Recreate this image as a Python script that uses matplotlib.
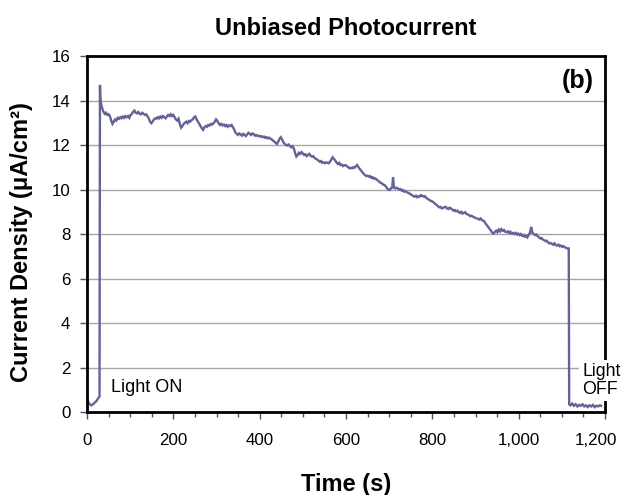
import matplotlib
matplotlib.use("Agg")
import matplotlib.pyplot as plt
from matplotlib.ticker import MultipleLocator, FuncFormatter
from matplotlib.transforms import ScaledTranslation

# ---- data ----
time_s = [0, 3, 6, 10, 14, 18, 22, 26, 29, 30, 31, 32, 34, 36, 38, 41, 44, 47, 50, 53, 56, 59,
          62, 65, 68, 71, 74, 77, 80, 83, 86, 89, 92, 95, 98, 101, 104, 107, 110, 113, 116, 119,
          122, 125, 128, 131, 134, 137, 140, 143, 146, 149, 152, 155, 158, 161, 164, 167, 170, 173,
          176, 179, 182, 185, 188, 191, 194, 197, 200, 203, 206, 209, 212, 215, 218, 221, 224, 227,
          230, 233, 236, 239, 242, 245, 248, 251, 254, 257, 260, 263, 266, 269, 272, 275, 278, 281,
          284, 287, 290, 293, 296, 299, 302, 305, 308, 311, 314, 317, 320, 323, 326, 329, 332, 335,
          338, 341, 344, 347, 350, 353, 356, 359, 362, 365, 368, 371, 374, 377, 380, 383, 386, 389,
          392, 395, 398, 401, 404, 407, 410, 413, 416, 419, 422, 425, 428, 431, 434, 437, 440, 443,
          446, 449, 452, 455, 458, 461, 464, 467, 470, 473, 476, 479, 482, 485, 488, 491, 494, 497,
          500, 503, 506, 509, 512, 515, 518, 521, 524, 527, 530, 533, 536, 539, 542, 545, 548, 551,
          554, 557, 560, 563, 566, 569, 572, 575, 578, 581, 584, 587, 590, 593, 596, 599, 602, 605,
          608, 611, 614, 617, 620, 623, 626, 629, 632, 635, 638, 641, 644, 647, 650, 653, 656, 659,
          662, 665, 668, 671, 674, 677, 680, 683, 686, 689, 692, 695, 698, 701, 704, 707, 709, 711,
          714, 717, 720, 723, 726, 729, 732, 735, 738, 741, 744, 747, 750, 753, 756, 759, 762, 765,
          768, 771, 774, 777, 780, 783, 786, 789, 792, 795, 798, 801, 804, 807, 810, 813, 816, 819,
          822, 825, 828, 831, 834, 837, 840, 843, 846, 849, 852, 855, 858, 861, 864, 867, 870, 873,
          876, 879, 882, 885, 888, 891, 894, 897, 900, 903, 906, 909, 912, 915, 918, 921, 924, 927,
          930, 933, 936, 939, 942, 945, 948, 951, 954, 957, 960, 963, 966, 969, 972, 975, 978, 981,
          984, 987, 990, 993, 996, 999, 1002, 1005, 1008, 1011, 1014, 1017, 1020, 1023, 1026, 1029,
          1032, 1035, 1038, 1041, 1044, 1047, 1050, 1053, 1056, 1059, 1062, 1065, 1068, 1071, 1074,
          1077, 1080, 1083, 1086, 1089, 1092, 1095, 1098, 1101, 1104, 1107, 1110, 1113, 1116, 1117,
          1120, 1124, 1128, 1132, 1136, 1140, 1144, 1148, 1152, 1156, 1160, 1164, 1168, 1172, 1176,
          1180, 1184, 1188, 1191]

current_density = [0.65, 0.45, 0.35, 0.30, 0.35, 0.42, 0.50, 0.62, 0.70, 14.70, 14.10, 13.90,
                   13.75, 13.60, 13.50, 13.40, 13.45, 13.35, 13.38, 13.30, 13.10, 12.95,
                   13.05, 13.15, 13.10, 13.22, 13.18, 13.25, 13.20, 13.28, 13.22, 13.30, 13.25,
                   13.30, 13.22, 13.35, 13.40, 13.50, 13.55, 13.45, 13.42, 13.48,
                   13.40, 13.38, 13.45, 13.40, 13.35, 13.38, 13.30, 13.20, 13.05, 12.98, 13.05,
                   13.15, 13.20, 13.18, 13.25, 13.20, 13.28, 13.22,
                   13.30, 13.25, 13.20, 13.28, 13.35, 13.30, 13.38, 13.30, 13.35, 13.25, 13.15,
                   13.10, 13.18, 12.95, 12.78, 12.85, 12.95, 13.00,
                   13.05, 12.98, 13.08, 13.05, 13.12, 13.15, 13.25, 13.28, 13.15, 13.05, 12.95,
                   12.85, 12.75, 12.68, 12.80, 12.85, 12.82, 12.90,
                   12.88, 12.95, 12.92, 12.98, 13.05, 13.15, 13.08, 12.98, 12.90, 12.95, 12.88,
                   12.92, 12.85, 12.90, 12.82, 12.88, 12.85, 12.90,
                   12.80, 12.70, 12.55, 12.50, 12.45, 12.52, 12.48, 12.42, 12.50, 12.45, 12.40,
                   12.48, 12.55, 12.50, 12.45, 12.52, 12.50, 12.42,
                   12.45, 12.40, 12.42, 12.38, 12.40, 12.35, 12.38, 12.32, 12.35, 12.30, 12.33,
                   12.28, 12.25, 12.20, 12.15, 12.10, 12.05, 12.15,
                   12.28, 12.35, 12.25, 12.12, 12.05, 12.00, 11.98, 12.02, 11.95, 11.90, 11.95,
                   11.85, 11.65, 11.48, 11.55, 11.65, 11.60, 11.68,
                   11.62, 11.55, 11.58, 11.50, 11.55, 11.60, 11.52, 11.48, 11.50, 11.42, 11.38,
                   11.35, 11.30, 11.25, 11.28, 11.20, 11.22, 11.18,
                   11.22, 11.20, 11.18, 11.25, 11.35, 11.45, 11.38, 11.30, 11.22, 11.15, 11.20,
                   11.10, 11.12, 11.05, 11.08, 11.10, 11.05, 11.00,
                   10.95, 10.98, 10.95, 11.00, 10.98, 11.05, 11.10, 11.00, 10.92, 10.85, 10.78,
                   10.70, 10.65, 10.60, 10.62, 10.58, 10.60, 10.52,
                   10.55, 10.48, 10.50, 10.45, 10.40, 10.35, 10.30, 10.28, 10.22, 10.20, 10.15,
                   10.05, 10.00, 9.98, 10.05, 10.10, 10.55, 10.08,
                   10.05, 10.08, 10.05, 10.00, 10.02, 9.95, 9.98, 9.90, 9.92, 9.88, 9.85, 9.82,
                   9.78, 9.75, 9.70, 9.68, 9.72, 9.65,
                   9.70, 9.68, 9.75, 9.72, 9.68, 9.70, 9.62, 9.58, 9.55, 9.50, 9.48, 9.45, 9.40,
                   9.35, 9.30, 9.25, 9.20, 9.22,
                   9.15, 9.18, 9.20, 9.22, 9.15, 9.12, 9.18, 9.15, 9.10, 9.05, 9.08, 9.02, 9.05,
                   8.98, 8.95, 9.00, 8.92, 8.95,
                   8.98, 8.90, 8.88, 8.85, 8.80, 8.82, 8.78, 8.75, 8.72, 8.70, 8.68, 8.65, 8.70,
                   8.62, 8.60, 8.55, 8.45, 8.38,
                   8.30, 8.22, 8.15, 8.05, 8.02, 8.10, 8.15, 8.08, 8.20, 8.12, 8.22, 8.15, 8.18,
                   8.10, 8.08, 8.12, 8.05, 8.10,
                   8.02, 8.05, 8.00, 8.05, 7.98, 8.02, 7.95, 8.00, 7.92, 7.95, 7.88, 7.92, 7.85,
                   7.95, 8.05, 8.32,
                   8.05, 8.00, 7.95, 7.98, 7.90, 7.85, 7.80, 7.82, 7.75, 7.72, 7.68, 7.70, 7.62,
                   7.58, 7.60,
                   7.55, 7.52, 7.58, 7.50, 7.48, 7.52, 7.45, 7.48, 7.42, 7.45, 7.40, 7.38, 7.35,
                   7.35, 0.35,
                   0.30, 0.38, 0.28, 0.35, 0.25, 0.32, 0.28, 0.35, 0.25, 0.30, 0.22, 0.30, 0.25,
                   0.32, 0.22,
                   0.28, 0.25, 0.30, 0.28]

x_ticks = [0, 200, 400, 600, 800, 1000, 1200]
y_ticks = [0, 2, 4, 6, 8, 10, 12, 14, 16]

title_text = "Unbiased Photocurrent"
x_label = "Time (s)"
y_label = "Current Density (\u03bcA/cm\u00b2)"
panel_label = "(b)"
on_label = "Light ON"
off_label = "Light\nOFF"

# ---- figure ----
plt.rcParams["font.family"] = ["Liberation Sans", "DejaVu Sans"]
fig = plt.figure(figsize=(6.23, 4.95), dpi=100)
ax = fig.add_axes([87 / 623, 1 - 412 / 495, 518 / 623, 356 / 495])

ax.plot(time_s, current_density, color="#62629C", lw=1.7, solid_joinstyle="miter", zorder=2)

ax.set_xlim(0, 1200)
ax.set_ylim(0, 16)
ax.set_xticks(x_ticks)
ax.xaxis.set_minor_locator(MultipleLocator(50))
ax.set_yticks(y_ticks)
ax.xaxis.set_major_formatter(FuncFormatter(lambda v, p: f"{int(v):,}"))

ax.grid(axis="y", color="#a6a6a6", lw=1.0, zorder=1)
ax.set_axisbelow(True)

for s in ax.spines.values():
    s.set_linewidth(2.0)
    s.set_color("black")

ax.tick_params(axis="both", which="major", direction="out", length=5, width=1,
               color="#555555", labelsize=12.2, pad=7)
ax.tick_params(axis="x", which="major", pad=10)
ax.tick_params(axis="x", which="minor", direction="out", length=3.5, width=1, color="#555555")

# keep the last x tick label inside the figure (as in the reference)
last_lab = ax.get_xticklabels()[-1]
last_lab.set_transform(last_lab.get_transform()
                       + ScaledTranslation(-9 / 100, 0, fig.dpi_scale_trans))

ax.set_title(title_text, fontsize=17, fontweight="bold", pad=15)
ax.set_xlabel(x_label, fontsize=17, fontweight="bold", labelpad=18)
ax.set_ylabel(y_label, fontsize=17, fontweight="bold")
ax.yaxis.set_label_coords(-0.104, 0.476)

ax.text(0.979, 0.931, panel_label, transform=ax.transAxes, ha="right", va="center",
        fontsize=18, fontweight="bold")
ax.text(55, 1.11, on_label, ha="left", va="center", fontsize=13)
ax.text(1147, 1.40, off_label, ha="left", va="center", fontsize=12.8,
        linespacing=1.1, zorder=5,
        bbox=dict(facecolor="white", edgecolor="none", pad=2.0))

fig.savefig("out.png", dpi=100)
